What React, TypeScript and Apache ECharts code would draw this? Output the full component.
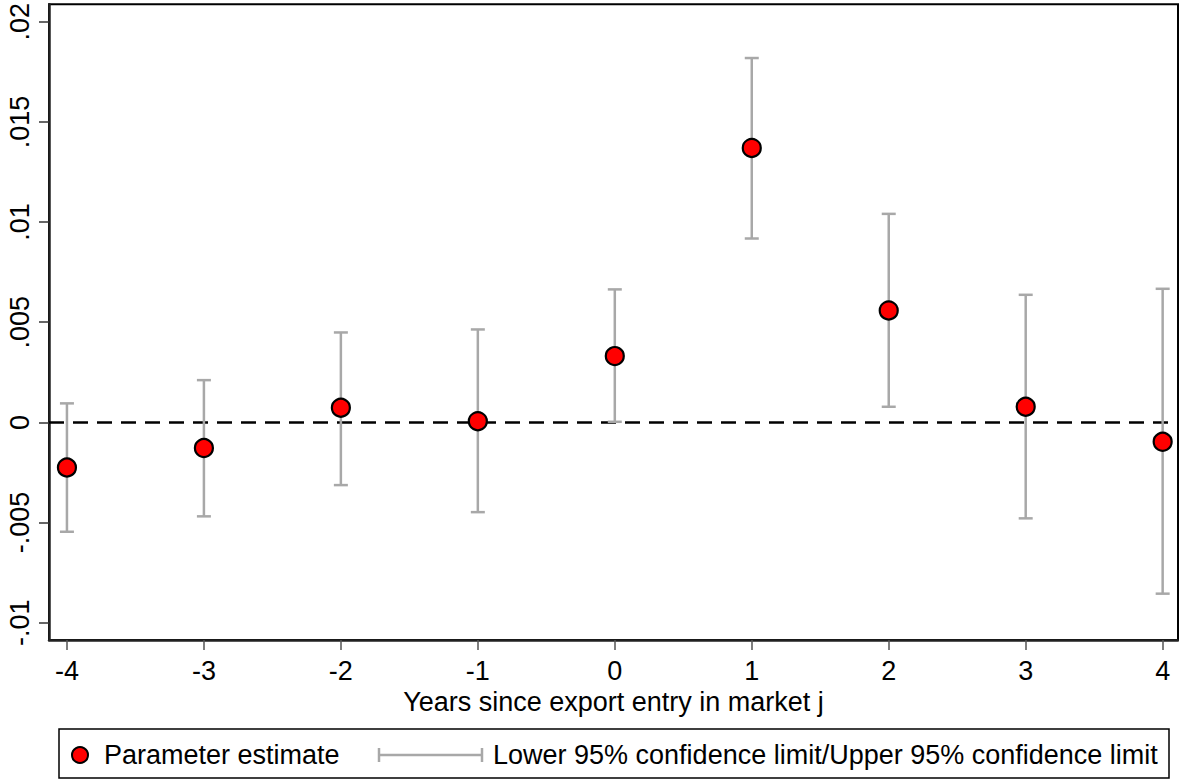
import React, { useEffect, useRef } from "react";
import * as echarts from "echarts";

const years = [-4, -3, -2, -1, 0, 1, 2, 3, 4];
const estimates = [-0.00225, -0.00128, 0.00073, 0.00006, 0.00331, 0.0137, 0.00559, 0.00078, -0.00097];
const lowerCI = [-0.00546, -0.00469, -0.00313, -0.00448, 0.00003, 0.00918, 0.00078, -0.00479, -0.00855];
const upperCI = [0.00095, 0.00211, 0.00449, 0.00464, 0.00664, 0.01819, 0.01041, 0.00637, 0.00667];
const yTickValues = [-0.01, -0.005, 0, 0.005, 0.01, 0.015, 0.02];
const yTickLabels = ["-.01", "-.005", "0", ".005", ".01", ".015", ".02"];
const xTickValues = [-4, -3, -2, -1, 0, 1, 2, 3, 4];
const xTitle = "Years since export entry in market j";
const legendPoint = "Parameter estimate";
const legendCI = "Lower 95% confidence limit/Upper 95% confidence limit";

const FONT = "'Liberation Sans', Arial, sans-serif";
const BAR = "#a8a8a8";
const FS = 27;

export default function App() {
  const ref = useRef<HTMLDivElement>(null);
  useEffect(() => {
    if (!ref.current) return;
    const chart = echarts.init(ref.current, null, { renderer: "svg" });
    const ciData = years.map((x, i) => [x, lowerCI[i], upperCI[i]]);
    const ptData = years.map((x, i) => [x, estimates[i]]);
    chart.setOption({
      animation: false,
      backgroundColor: "#fff",
      textStyle: { fontFamily: FONT },
      grid: {
        left: 49,
        top: 4,
        right: 1,
        bottom: 139,
        show: true,
        borderColor: "#000",
        borderWidth: 2,
        containLabel: false,
      },
      xAxis: {
        type: "value",
        min: -4.131,
        max: 4.112,
        splitLine: { show: false },
        axisLine: { show: true, onZero: false, lineStyle: { color: "#222", width: 2.5 } },
        axisTick: { show: true, length: 10, lineStyle: { color: "#555", width: 1.5 }, customValues: xTickValues },
        axisLabel: {
          customValues: xTickValues,
          fontSize: FS,
          color: "#000",
          fontFamily: FONT,
          margin: 17,
          formatter: (v: number) => String(v),
        },
        name: xTitle,
        nameLocation: "middle",
        nameGap: 44,
        nameTextStyle: { fontSize: FS, color: "#000", fontFamily: FONT, verticalAlign: "top" },
      },
      yAxis: {
        type: "value",
        min: -0.010863,
        max: 0.020873,
        splitLine: { show: false },
        axisLine: { show: true, onZero: false, lineStyle: { color: "#222", width: 2.5 } },
        axisTick: { show: true, length: 10, lineStyle: { color: "#333", width: 1.5 }, customValues: yTickValues },
        axisLabel: {
          customValues: yTickValues,
          rotate: 90,
          fontSize: FS,
          color: "#000",
          fontFamily: FONT,
          margin: 16,
          formatter: (v: number) => {
            const i = yTickValues.findIndex((t) => Math.abs(t - v) < 1e-9);
            return i >= 0 ? yTickLabels[i] : "";
          },
        },
      },
      series: [
        {
          type: "custom",
          z: 3,
          data: ciData,
          encode: { x: 0, y: [1, 2] },
          renderItem: (params: any, api: any) => {
            const x = api.value(0);
            const lo = api.coord([x, api.value(1)]);
            const hi = api.coord([x, api.value(2)]);
            const hw = 7;
            const st = { stroke: BAR, lineWidth: 2.5 };
            return {
              type: "group",
              children: [
                { type: "line", shape: { x1: hi[0], y1: hi[1], x2: lo[0], y2: lo[1] }, style: st },
                { type: "line", shape: { x1: hi[0] - hw, y1: hi[1], x2: hi[0] + hw, y2: hi[1] }, style: st },
                { type: "line", shape: { x1: lo[0] - hw, y1: lo[1], x2: lo[0] + hw, y2: lo[1] }, style: st },
              ],
            };
          },
        },
        {
          type: "scatter",
          z: 4,
          data: ptData,
          symbol: "circle",
          symbolSize: 18,
          itemStyle: { color: "#ff0000", borderColor: "#000", borderWidth: 2.2, opacity: 1 },
          markLine: {
            silent: true,
            z: 2,
            symbol: "none",
            label: { show: false },
            lineStyle: { color: "#000", width: 2.6, type: [15, 9], opacity: 1 },
            emphasis: { disabled: true },
            data: [{ yAxis: 0 }],
          },
        },
      ],
      graphic: [
        {
          type: "rect",
          shape: { x: 59, y: 729, width: 1110, height: 49 },
          style: { fill: "none", stroke: "#000", lineWidth: 1.5 },
        },
        {
          type: "circle",
          shape: { cx: 80, cy: 755, r: 8 },
          style: { fill: "#ff0000", stroke: "#000", lineWidth: 2 },
        },
        {
          type: "text",
          x: 104,
          y: 755,
          style: { text: legendPoint, fontSize: FS, fontFamily: FONT, fill: "#000", verticalAlign: "middle" },
        },
        { type: "line", shape: { x1: 379, y1: 755, x2: 482, y2: 755 }, style: { stroke: BAR, lineWidth: 2.5 } },
        { type: "line", shape: { x1: 379, y1: 748, x2: 379, y2: 762 }, style: { stroke: BAR, lineWidth: 2.5 } },
        { type: "line", shape: { x1: 482, y1: 748, x2: 482, y2: 762 }, style: { stroke: BAR, lineWidth: 2.5 } },
        {
          type: "text",
          x: 493,
          y: 755,
          style: { text: legendCI, fontSize: FS, fontFamily: FONT, fill: "#000", verticalAlign: "middle" },
        },
      ],
    });
    return () => chart.dispose();
  }, []);
  return (
    <div
      ref={ref}
      style={{ position: "fixed", left: 0, top: 0, width: 1179, height: 779, background: "#fff" }}
    />
  );
}
